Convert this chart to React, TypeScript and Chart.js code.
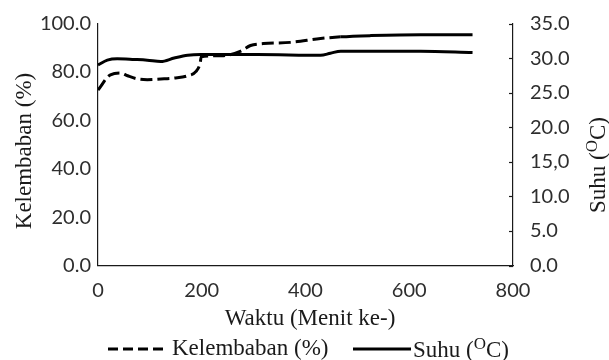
import React, { useEffect, useRef } from "react";
import { Chart, registerables } from "chart.js";

Chart.register(...registerables);

// ---- data ----
const humidityTime = [0, 24, 44, 57, 76, 95, 121, 147, 173, 189, 197, 199, 242, 274, 294, 319, 371, 429, 468, 526, 622, 722];
const humidityValues = [72.5, 78.8, 79.5, 78.4, 77.1, 76.8, 77.1, 77.5, 78.4, 80.2, 83.7, 86.3, 86.7, 88.5, 90.9, 91.7, 92.2, 93.8, 94.5, 95.0, 95.4, 95.4];

const tempTime = [0, 18, 37, 70, 95, 121, 147, 173, 198, 216, 307, 429, 448, 468, 622, 722];
const tempValues = [29.0, 29.7, 29.9, 29.8, 29.7, 29.5, 30.0, 30.4, 30.5, 30.5, 30.5, 30.4, 30.7, 31.0, 31.0, 30.8];

const xTicks = [0, 200, 400, 600, 800];
const leftTickLabels = ["0.0", "20.0", "40.0", "60.0", "80.0", "100.0"];
const rightTickLabels = ["0.0", "5.0", "10.0", "15,0", "20.0", "25.0", "30.0", "35.0"];

const xTitle = "Waktu (Menit ke-)";
const leftTitle = "Kelembaban (%)";
const humidityLabel = "Kelembaban (%)";
const tempLabelParts = ["Suhu (", "O", "C)"];

const TICK_FONT = "Lato";
const SERIF = "'Liberation Serif', 'Times New Roman', serif";
const TICK_COLOR = "#2e2e2e";
const AXIS_COLOR = "#1a1a1a";
const LINE_COLOR = "#000000";

function drawSupText(ctx: CanvasRenderingContext2D, parts: string[], cx: number, cy: number, size: number, align: "center" | "left") {
  const main = `${size}px ${SERIF}`;
  const small = `${Math.round(size * 0.72)}px ${SERIF}`;
  ctx.font = main;
  const w0 = ctx.measureText(parts[0]).width;
  const w2 = ctx.measureText(parts[2]).width;
  ctx.font = small;
  const w1 = ctx.measureText(parts[1]).width;
  const total = w0 + w1 + w2;
  let x = align === "center" ? cx - total / 2 : cx;
  ctx.textAlign = "left";
  ctx.textBaseline = "alphabetic";
  const base = cy + size * 0.33;
  ctx.font = main;
  ctx.fillText(parts[0], x, base);
  x += w0;
  ctx.font = small;
  ctx.fillText(parts[1], x, base - size * 0.34);
  x += w1;
  ctx.font = main;
  ctx.fillText(parts[2], x, base);
}

const decorPlugin = {
  id: "decor",
  afterDraw(chart: any) {
    const ctx: CanvasRenderingContext2D = chart.ctx;
    const y1 = chart.scales.y1;
    const area = chart.chartArea;
    ctx.save();
    // inward tick marks on right axis
    ctx.strokeStyle = AXIS_COLOR;
    ctx.lineWidth = 1.2;
    y1.ticks.forEach((t: any) => {
      const py = Math.round(y1.getPixelForValue(t.value)) + 0.5;
      ctx.beginPath();
      ctx.moveTo(area.right - 4, py);
      ctx.lineTo(area.right, py);
      ctx.stroke();
    });

    ctx.fillStyle = AXIS_COLOR;
    // x title
    ctx.font = `23px ${SERIF}`;
    ctx.textAlign = "center";
    ctx.textBaseline = "middle";
    ctx.fillText(xTitle, 310, 319);

    // left title (rotated)
    ctx.save();
    ctx.translate(25, 151);
    ctx.rotate(-Math.PI / 2);
    ctx.font = `23px ${SERIF}`;
    ctx.textAlign = "center";
    ctx.textBaseline = "middle";
    ctx.fillText(leftTitle, 0, 0);
    ctx.restore();

    // right title (rotated)
    ctx.save();
    ctx.translate(597, 165);
    ctx.rotate(-Math.PI / 2);
    drawSupText(ctx, tempLabelParts, 0, 0, 23, "center");
    ctx.restore();

    // legend
    const ly = 349;
    ctx.strokeStyle = LINE_COLOR;
    ctx.lineWidth = 3;
    ctx.setLineDash([10, 5]);
    ctx.beginPath();
    ctx.moveTo(108, ly);
    ctx.lineTo(168, ly);
    ctx.stroke();
    ctx.setLineDash([]);
    ctx.font = `23px ${SERIF}`;
    ctx.textAlign = "left";
    ctx.textBaseline = "middle";
    ctx.fillText(humidityLabel, 172, ly);
    ctx.beginPath();
    ctx.moveTo(353, ly);
    ctx.lineTo(411, ly);
    ctx.stroke();
    drawSupText(ctx, tempLabelParts, 413, ly, 23, "left");
    ctx.restore();
  },
};

export default function App() {
  const ref = useRef<HTMLCanvasElement | null>(null);

  useEffect(() => {
    if (!ref.current) return;
    const humData = humidityTime.map((t, i) => ({ x: t, y: humidityValues[i] }));
    const tempData = tempTime.map((t, i) => ({ x: t, y: tempValues[i] }));
    const chart = new Chart(ref.current, {
      type: "line",
      data: {
        datasets: [
          {
            label: humidityLabel,
            data: humData,
            yAxisID: "y",
            borderColor: LINE_COLOR,
            borderWidth: 3,
            borderDash: [12, 5],
            pointRadius: 0,
            cubicInterpolationMode: "monotone",
            segment: {
              borderDash: (c: any) => (c.p0.parsed.x >= 440 ? [] : [12, 5]),
            },
          },
          {
            label: "Suhu (OC)",
            data: tempData,
            yAxisID: "y1",
            borderColor: LINE_COLOR,
            borderWidth: 3,
            pointRadius: 0,
            cubicInterpolationMode: "monotone",
          },
        ],
      },
      options: {
        responsive: false,
        animation: false,
        layout: { padding: { top: 23.5, left: 0, right: 0, bottom: 0 } },
        plugins: { legend: { display: false }, tooltip: { enabled: false } },
        scales: {
          x: {
            type: "linear",
            min: 0,
            max: 800,
            afterBuildTicks: (s: any) => {
              s.ticks = xTicks.map((v) => ({ value: v }));
            },
            grid: { display: false, drawTicks: false },
            border: { display: true, color: AXIS_COLOR, width: 1.2 },
            ticks: { padding: 13, color: TICK_COLOR, font: { family: TICK_FONT, size: 20 }, maxRotation: 0 },
            afterFit: (s: any) => {
              s.height = 94.5;
              s.paddingLeft = 0;
              s.paddingRight = 0;
            },
          },
          y: {
            type: "linear",
            position: "left",
            min: 0,
            max: 100,
            ticks: {
              stepSize: 20,
              padding: 7,
              color: TICK_COLOR,
              font: { family: TICK_FONT, size: 20 },
              callback: (_v: any, i: number) => leftTickLabels[i],
            },
            grid: { display: false, drawTicks: false },
            border: { display: true, color: AXIS_COLOR, width: 1.2 },
            afterFit: (s: any) => {
              s.width = 98;
              s.paddingTop = 0;
              s.paddingBottom = 0;
            },
          },
          y1: {
            type: "linear",
            position: "right",
            min: 0,
            max: 35,
            ticks: {
              stepSize: 5,
              padding: 17,
              color: TICK_COLOR,
              font: { family: TICK_FONT, size: 20 },
              callback: (_v: any, i: number) => rightTickLabels[i],
            },
            grid: { display: false, drawTicks: false },
            border: { display: true, color: AXIS_COLOR, width: 1.2 },
            afterFit: (s: any) => {
              s.width = 96;
              s.paddingTop = 0;
              s.paddingBottom = 0;
            },
          },
        },
      },
      plugins: [decorPlugin],
    });
    return () => chart.destroy();
  }, []);

  return (
    <div style={{ position: "fixed", left: 0, top: 0, width: 609, height: 360, background: "#fff" }}>
      <canvas ref={ref} width={609} height={360} style={{ display: "block" }} />
    </div>
  );
}
